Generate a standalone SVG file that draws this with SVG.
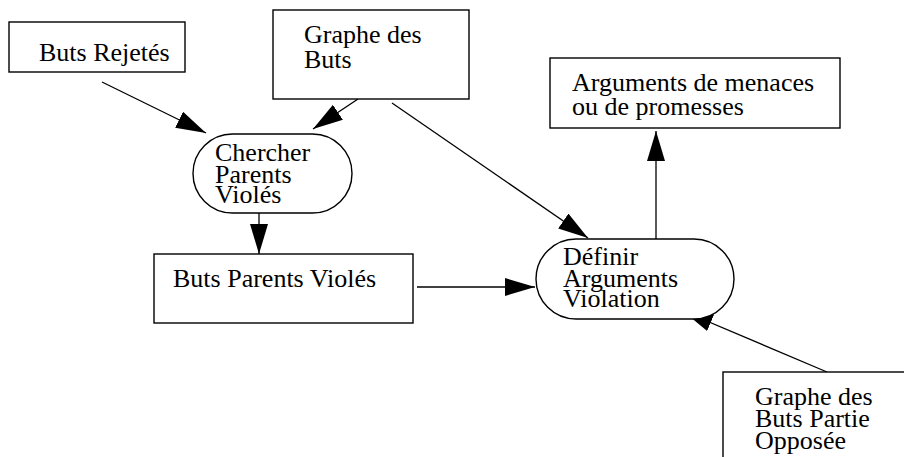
<svg xmlns="http://www.w3.org/2000/svg" width="904" height="457" viewBox="0 0 904 457">
<style>
.box{fill:#fff;stroke:#000;stroke-width:1.4}
.t{font-family:"Liberation Serif","Times New Roman",serif;font-size:26px;fill:#000}
.c{stroke:#000;stroke-width:1.3;fill:none;marker-end:url(#ah)}
</style>
<defs>
<marker id="ah" markerUnits="userSpaceOnUse" markerWidth="31" markerHeight="19" refX="30" refY="9" orient="auto">
<path d="M0,0 L30,9 L0,18 z" fill="#000"/>
</marker>
</defs>
<rect width="904" height="457" fill="#fff"/>
<g id="connectors">
<line class="c" x1="102" y1="82" x2="206" y2="133"/>
<line class="c" x1="358" y1="99" x2="313" y2="129"/>
<line class="c" x1="392" y1="103" x2="588" y2="238"/>
<line class="c" x1="259" y1="213" x2="259" y2="254"/>
<line class="c" x1="417" y1="287" x2="535" y2="287"/>
<line class="c" x1="656" y1="239" x2="656" y2="131"/>
<line class="c" x1="827" y1="372" x2="683" y2="311"/>
</g>
<g id="buts_rejetes">
<rect class="box" x="9" y="22" width="176" height="50"/>
<text class="t" x="39" y="61">Buts Rejetés</text>
</g>
<g id="graphe_buts">
<rect class="box" x="273" y="10" width="196" height="89"/>
<text class="t" x="304" y="43">Graphe des</text>
<text class="t" x="304" y="68">Buts</text>
</g>
<g id="arguments">
<rect class="box" x="550" y="58" width="290" height="70"/>
<text class="t" x="572" y="91">Arguments de menaces</text>
<text class="t" x="572" y="115">ou de promesses</text>
</g>
<g id="chercher">
<rect class="box" x="193" y="134" width="159" height="79" rx="39.5" ry="39.5"/>
<text class="t" x="215" y="161">Chercher</text>
<text class="t" x="215" y="183">Parents</text>
<text class="t" x="215" y="203">Violés</text>
</g>
<g id="buts_parents">
<rect class="box" x="154" y="254" width="259" height="69"/>
<text class="t" x="173" y="287">Buts Parents Violés</text>
</g>
<g id="definir">
<rect class="box" x="536" y="239" width="198" height="80" rx="40" ry="40"/>
<text class="t" x="563" y="265">Définir</text>
<text class="t" x="563" y="287">Arguments</text>
<text class="t" x="563" y="307">Violation</text>
</g>
<g id="partie_opposee">
<rect class="box" x="723" y="372" width="200" height="100"/>
<text class="t" x="755" y="405">Graphe des</text>
<text class="t" x="755" y="427">Buts Partie</text>
<text class="t" x="755" y="449">Opposée</text>
</g>
</svg>
